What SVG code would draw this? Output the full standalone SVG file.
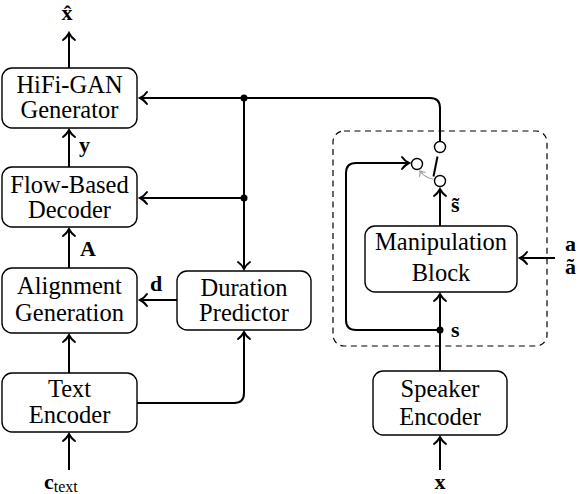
<svg xmlns="http://www.w3.org/2000/svg" width="580" height="494" viewBox="0 0 580 494">
<style>
.box{fill:#fff;stroke:#000;stroke-width:1.4}
.lbl{font-family:"Liberation Serif","DejaVu Serif",serif;font-size:24.5px;text-anchor:middle;fill:#000}
.sym{font-family:"Liberation Serif","DejaVu Serif",serif;font-size:22px;font-weight:bold;fill:#000}
.ln{fill:none;stroke:#000;stroke-width:2}
.dot{fill:#000}
.circ{fill:#fff;stroke:#000;stroke-width:1.4}
</style>
<defs>
<marker id="ar" markerUnits="userSpaceOnUse" markerWidth="14" markerHeight="14" viewBox="-10 -7 14 14" refX="0" refY="0" orient="auto" overflow="visible">
<path d="M -7 -6 C -5 -3 -2 -1 0 0 C -2 1 -5 3 -7 6" fill="none" stroke="#000" stroke-width="2" stroke-linecap="round"/>
</marker>
<marker id="arg" markerUnits="userSpaceOnUse" markerWidth="10" markerHeight="10" viewBox="-6 -5 10 10" refX="0" refY="0" orient="auto" overflow="visible">
<path d="M -4 -3.5 C -3 -2 -1 -0.5 0 0 C -1 0.5 -3 2 -4 3.5" fill="none" stroke="#999" stroke-width="1.2" stroke-linecap="round"/>
</marker>
</defs>

<rect x="333" y="131" width="214" height="215" rx="11" fill="none" stroke="#000" stroke-width="1.2" stroke-dasharray="6,4.5"/>

<g id="connectors">
<path class="ln" d="M69 68 V33" marker-end="url(#ar)"/>
<path class="ln" d="M69 167 V130" marker-end="url(#ar)"/>
<path class="ln" d="M69 268 V229" marker-end="url(#ar)"/>
<path class="ln" d="M69 373 V335" marker-end="url(#ar)"/>
<path class="ln" d="M69 470 V434" marker-end="url(#ar)"/>
<path class="ln" d="M440 141.5 V108 Q440 98 430 98 H140" marker-end="url(#ar)"/>
<path class="ln" d="M244 98 V269" marker-end="url(#ar)"/>
<path class="ln" d="M244 198 H140" marker-end="url(#ar)"/>
<path class="ln" d="M177 300 H140" marker-end="url(#ar)"/>
<path class="ln" d="M137 403 H234 Q244 403 244 393 V332" marker-end="url(#ar)"/>
<path class="ln" d="M440 470 V437" marker-end="url(#ar)"/>
<path class="ln" d="M440 371 V294" marker-end="url(#ar)"/>
<path class="ln" d="M440 330 H356 Q346 330 346 320 V173 Q346 163 356 163 H409" marker-end="url(#ar)"/>
<path class="ln" d="M440 226 V189" marker-end="url(#ar)"/>
<path class="ln" d="M555 258 H520" marker-end="url(#ar)"/>
<path class="ln" d="M433.5 176.5 L437.5 156.5"/>
<path d="M433 179 Q425 178 420 171" fill="none" stroke="#999" stroke-width="1.2" marker-end="url(#arg)"/>
<circle class="dot" cx="244" cy="98" r="3.5"/>
<circle class="dot" cx="244" cy="198" r="3.5"/>
<circle class="dot" cx="440" cy="330" r="3.5"/>
<circle class="circ" cx="440" cy="147" r="5.5"/>
<circle class="circ" cx="417" cy="164" r="5.5"/>
<circle class="circ" cx="440" cy="181" r="5.5"/>
</g>

<g id="hifigan">
<rect class="box" x="2" y="68" width="135" height="60" rx="10"/>
<text class="lbl" x="69.5" y="93">HiFi-GAN</text>
<text class="lbl" x="69.5" y="118">Generator</text>
</g>
<g id="flow-decoder">
<rect class="box" x="2" y="167" width="135" height="60" rx="10"/>
<text class="lbl" x="69.5" y="193">Flow-Based</text>
<text class="lbl" x="69.5" y="218">Decoder</text>
</g>
<g id="alignment">
<rect class="box" x="2" y="268" width="135" height="65" rx="10"/>
<text class="lbl" x="69.5" y="294">Alignment</text>
<text class="lbl" x="69.5" y="321">Generation</text>
</g>
<g id="duration">
<rect class="box" x="177" y="271" width="134" height="59" rx="10"/>
<text class="lbl" x="244" y="296">Duration</text>
<text class="lbl" x="244" y="321">Predictor</text>
</g>
<g id="text-encoder">
<rect class="box" x="2" y="373" width="135" height="59" rx="10"/>
<text class="lbl" x="69.5" y="397">Text</text>
<text class="lbl" x="69.5" y="423">Encoder</text>
</g>
<g id="manipulation">
<rect class="box" x="365" y="226" width="152" height="66" rx="10"/>
<text class="lbl" x="441" y="250">Manipulation</text>
<text class="lbl" x="441" y="281">Block</text>
</g>
<g id="speaker-encoder">
<rect class="box" x="373" y="371" width="134" height="64" rx="10"/>
<text class="lbl" x="440" y="397">Speaker</text>
<text class="lbl" x="440" y="425">Encoder</text>
</g>

<g id="labels">
<text class="sym" x="67" y="20" text-anchor="middle">x̂</text>
<text class="sym" x="79" y="152">y</text>
<text class="sym" x="80" y="256">A</text>
<text class="sym" x="150" y="291">d</text>
<text class="sym" x="44" y="489">c<tspan font-size="16" font-weight="normal" dy="3">text</tspan></text>
<text class="sym" x="451" y="212">s̃</text>
<text class="sym" x="451" y="337">s</text>
<text class="sym" x="565" y="251">a</text>
<text class="sym" x="565" y="274">ã</text>
<text class="sym" x="440" y="489" text-anchor="middle">x</text>
</g>
</svg>
